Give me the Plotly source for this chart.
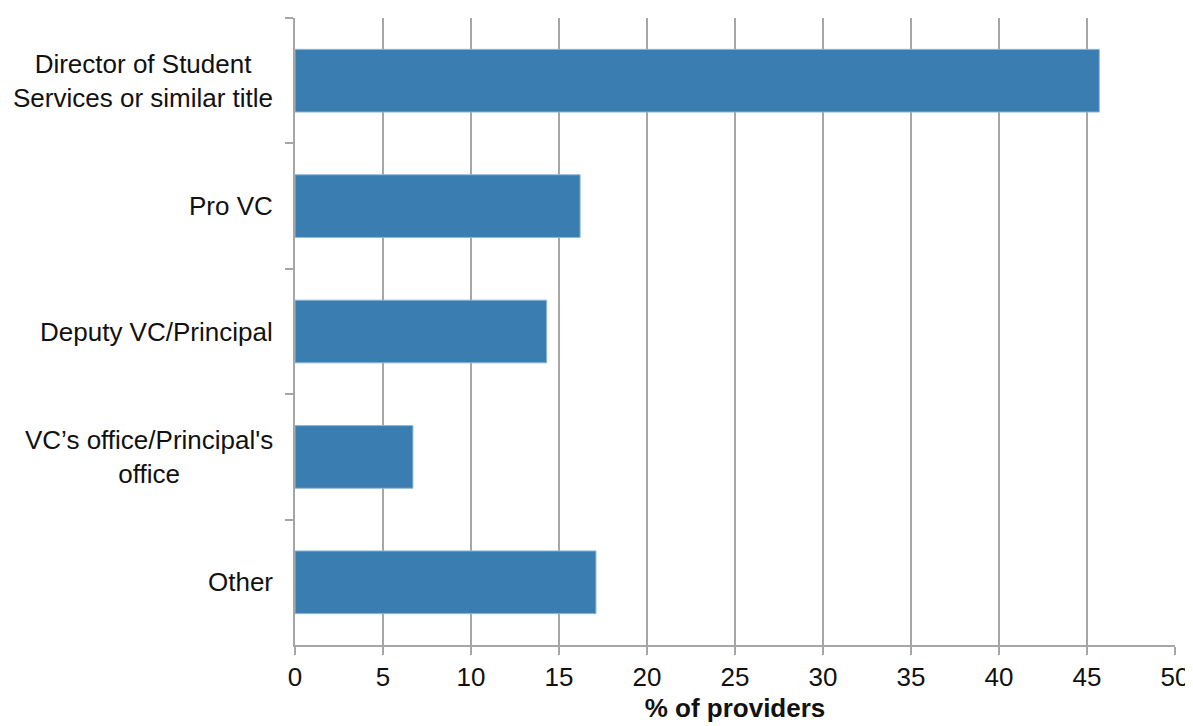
import plotly.graph_objects as go

categories = ["Director of Student<br>Services or similar title", "Pro VC", "Deputy VC/Principal",
              "VC’s office/Principal's<br>office", "Other"]
values = [45.7, 16.2, 14.3, 6.7, 17.1]
x_ticks = [0, 5, 10, 15, 20, 25, 30, 35, 40, 45, 50]
x_title = "% of providers"

AX = "#a6a6a6"
FONT = "Liberation Sans, Arial, sans-serif"
FS = 26

fig = go.Figure(go.Bar(
    y=categories, x=values, orientation="h",
    marker=dict(color="#3a7eb1", line=dict(color="#8db8da", width=1)),
    width=0.5,
))

for c in categories:
    fig.add_annotation(x=0, xref="paper", y=c, yref="y", xanchor="right", xshift=-20,
                       text=c, showarrow=False, align="center",
                       font=dict(family=FONT, size=FS, color="#111111"))

fig.update_layout(
    width=1193, height=726,
    margin=dict(l=287, r=26, t=10, b=89),
    plot_bgcolor="white", paper_bgcolor="white",
    showlegend=False,
    font=dict(family=FONT, size=FS, color="#111111"),
    xaxis=dict(range=[0, 50], tickvals=x_ticks, showgrid=True, gridcolor=AX, gridwidth=1.5,
               showline=True, linecolor=AX, linewidth=1.5, ticks="outside", ticklen=8,
               tickcolor=AX, tickwidth=1.5, zeroline=False, automargin=False,
               tickfont=dict(family=FONT, size=FS, color="#111111"),
               title=dict(text="<b>" + x_title + "</b>", standoff=8,
                          font=dict(family=FONT, size=FS, color="#111111"))),
    yaxis=dict(categoryorder="array", categoryarray=categories, autorange="reversed",
               showticklabels=False, showgrid=False, showline=True, linecolor=AX, linewidth=1.5,
               ticks="outside", tickson="boundaries", ticklen=8, tickcolor=AX, tickwidth=1.5,
               automargin=False),
)

fig.write_html("out.html")
